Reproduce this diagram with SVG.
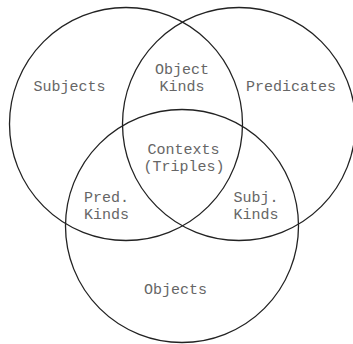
<svg xmlns="http://www.w3.org/2000/svg" width="353" height="344" viewBox="0 0 353 344">
<style>
.c{fill:none;stroke:#222;stroke-width:1.3}
text{font-family:"Liberation Mono","Courier New",monospace;font-size:15px;fill:#666;text-anchor:middle}
</style>
<rect width="353" height="344" fill="#fff"/>
<g id="circles">
<circle id="subjects-set" class="c" cx="126" cy="124" r="116.5"/>
<circle id="predicates-set" class="c" cx="239" cy="124" r="116.5"/>
<circle id="objects-set" class="c" cx="182" cy="226" r="116.5"/>
</g>
<g id="subjects"><text x="69.5" y="91">Subjects</text></g>
<g id="object-kinds"><text x="182" y="74">Object</text><text x="182" y="91">Kinds</text></g>
<g id="predicates"><text x="291" y="91">Predicates</text></g>
<g id="contexts"><text x="183.5" y="154">Contexts</text><text x="184" y="171">(Triples)</text></g>
<g id="pred-kinds"><text x="106.5" y="202">Pred.</text><text x="106.5" y="219">Kinds</text></g>
<g id="subj-kinds"><text x="256" y="202">Subj.</text><text x="256" y="219">Kinds</text></g>
<g id="objects"><text x="175.5" y="294">Objects</text></g>
</svg>
